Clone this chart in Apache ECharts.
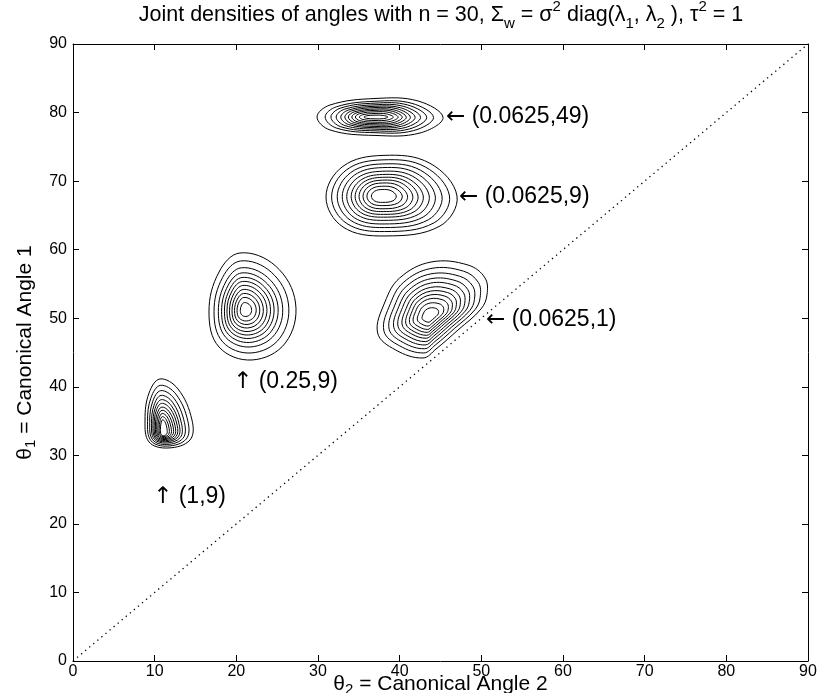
<!DOCTYPE html>
<html><head><meta charset="utf-8">
<script src="https://cdn.jsdelivr.net/npm/echarts@6/dist/echarts.min.js"></script>
<style>html,body{margin:0;padding:0;background:#fff}#c{width:827px;height:693px}</style>
</head><body><div id="c"></div>
<script>
// ---- data (data units: x = theta2, y = theta1) ----
const xTicks = [0, 10, 20, 30, 40, 50, 60, 70, 80, 90];
const yTicks = [0, 10, 20, 30, 40, 50, 60, 70, 80, 90];

// blob (0.0625,49)
const centerA = [36.98, 79.35];
const outerA = [[29.88,79.35],[31.47,81.10],[36.98,82.05],[42.25,81.69],[45.31,79.28],[42.49,77.02],[36.98,76.66],[31.47,77.46]];
const ringXA = [1, .86, .76, .67, .59, .52, .46, .40, .34, .27, .19];
const ringYA = [1, .85, .75, .66, .58, .51, .43, .36, .28, .19, .10];

// blob (0.0625,9)
const centerB = [37.84, 67.83];
const outerB = [[30.98,67.68],[33.06,72.16],[37.96,73.75],[43.71,72.60],[47.02,67.83],[44.94,63.45],[38.20,62.00],[33.06,63.31]];
const ringXB = [1, .90, .80, .71, .63, .55, .48, .41, .34, .27, .19];
const ringYB = [1, .89, .79, .70, .61, .53, .46, .39, .32, .24, .16];

// blob (0.25,9)
const centerC = [21.06, 51.20];
const outerC = [[20.45,59.52],[24.80,57.62],[27.25,52.22],[26.00,46.39],[21.92,43.91],[17.88,45.80],[16.65,50.91],[17.88,56.74]];
const ringXC = [1, .86, .74, .65, .57, .50, .43, .36, .29, .22, .13];
const ringYC = [1, .86, .74, .65, .57, .50, .43, .36, .29, .22, .13];

// blob (0.0625,1)
const centerD = [43.71, 50.33];
const outerD = [[43.84,58.20],[48.37,57.76],[50.45,55.87],[50.69,53.39],[49.96,51.35],[47.14,48.28],[44.45,45.51],[42.86,44.20],[39.50,45.37],[37.30,47.85],[38.20,52.37],[40.00,55.87]];
const ringXD = [1, .88, .78, .69, .61, .53, .46, .39, .32, .24, .15];
const ringYD = [1, .88, .78, .69, .61, .53, .46, .39, .32, .24, .15];

// blob (1,9)
const centerE = [11.02, 33.40];
const outerE = [[10.65,41.14],[12.86,39.68],[14.57,35.15],[14.33,32.24],[11.63,31.07],[9.31,31.95],[8.82,35.15],[9.31,39.09]];
const ringXE = [1, .86, .74, .64, .56, .49, .42, .35, .28, .21, .14];
const ringYE = [1, .88, .78, .69, .61, .54, .47, .41, .35, .29, .23];

// diagonal theta1 = theta2
const diagX = [0, 90];
const diagY = [0, 90];

// annotations
const noteArrows = ['\u2190', '\u2190', '\u2190', '\u2191', '\u2191'];
const noteTexts = ['(0.0625,49)', '(0.0625,9)', '(0.0625,1)', '(0.25,9)', '(1,9)'];
const noteX = [45.67, 47.27, 50.57, 19.59, 9.80];
const noteY = [79.35, 67.68, 49.74, 40.70, 23.92];

// ---- chart ----
const FONT = '"Liberation Sans", Arial, Helvetica, sans-serif';
const chart = echarts.init(document.getElementById('c'), null, {renderer: 'canvas'});

function contourSeries(center, outer, fx, fy) {
  return {
    type: 'custom',
    coordinateSystem: 'cartesian2d',
    silent: true,
    clip: true,
    data: fx.map((v, i) => [i]),
    encode: {x: -1, y: -1},
    renderItem: function (params, api) {
      const i = params.dataIndex;
      const sx = fx[i], sy = fy[i];
      const pts = outer.map(p => api.coord([
        center[0] + sx * (p[0] - center[0]),
        center[1] + sy * (p[1] - center[1])
      ]));
      return {
        type: 'polygon',
        shape: {points: pts, smooth: 0.38},
        style: {fill: 'none', stroke: '#000', lineWidth: 1}
      };
    }
  };
}

const axisCommon = {
  type: 'value', min: 0, max: 90, interval: 10,
  axisLine: {show: true, onZero: false, lineStyle: {color: '#000', width: 1}},
  axisTick: {show: true, inside: true, length: 6, lineStyle: {color: '#000', width: 1}},
  splitLine: {show: false},
};

const nameRich = {
  t: {fontSize: 21, fontFamily: FONT, color: '#000', lineHeight: 26, verticalAlign: 'middle'},
  s: {fontSize: 15, fontFamily: FONT, color: '#000', lineHeight: 26, verticalAlign: 'bottom'}
};

chart.setOption({
  animation: false,
  backgroundColor: '#fff',
  grid: {left: 73, right: 19, top: 44, bottom: 32, containLabel: false, outerBoundsMode: 'none'},
  xAxis: [
    Object.assign({}, axisCommon, {
      position: 'bottom',
      axisLabel: {color: '#000', fontSize: 16, fontFamily: FONT, margin: 3,
        formatter: v => xTicks.indexOf(v) >= 0 ? String(v) : ''},
      name: '{t|\u03b8}{s|2}{t| = Canonical Angle 2}',
      nameLocation: 'middle', nameGap: 10, nameMoveOverlap: false,
      nameTextStyle: {rich: nameRich}
    }),
    Object.assign({}, axisCommon, {position: 'top', axisLabel: {show: false}})
  ],
  yAxis: [
    Object.assign({}, axisCommon, {
      position: 'left',
      axisLabel: {color: '#000', fontSize: 16, fontFamily: FONT, margin: 6,
        formatter: v => yTicks.indexOf(v) >= 0 ? String(v) : ''},
      name: '{t|\u03b8}{s|1}{t| = Canonical Angle 1}',
      nameLocation: 'middle', nameGap: 30,
      nameTextStyle: {rich: nameRich}
    }),
    Object.assign({}, axisCommon, {position: 'right', axisLabel: {show: false}})
  ],
  graphic: [{
    type: 'text', x: 441, y: 15,
    style: {
      text: '{a|Joint densities of angles with n = 30, \u03a3}{b|w}{a| = \u03c3}{c|2}{a| diag(\u03bb}{b|1}{a|, \u03bb}{b|2}{a| ), \u03c4}{c|2}{a| = 1}',
      align: 'center', verticalAlign: 'middle',
      rich: {
        a: {fontSize: 21.5, fontFamily: FONT, color: '#000', lineHeight: 32, verticalAlign: 'middle'},
        b: {fontSize: 15, fontFamily: FONT, color: '#000', lineHeight: 32, verticalAlign: 'bottom'},
        c: {fontSize: 15, fontFamily: FONT, color: '#000', lineHeight: 32, verticalAlign: 'top'}
      }
    }
  }],
  series: [
    {
      type: 'line', silent: true, symbol: 'none',
      data: diagX.map((x, i) => [x, diagY[i]]),
      lineStyle: {color: '#000', width: 1.3, type: [1.3, 4]}
    },
    contourSeries(centerA, outerA, ringXA, ringYA),
    contourSeries(centerB, outerB, ringXB, ringYB),
    contourSeries(centerC, outerC, ringXC, ringYC),
    contourSeries(centerD, outerD, ringXD, ringYD),
    contourSeries(centerE, outerE, ringXE, ringYE),
    {
      type: 'custom', coordinateSystem: 'cartesian2d', silent: true,
      data: noteTexts.map((t, i) => [noteX[i], noteY[i]]),
      renderItem: function (params, api) {
        const p = api.coord([api.value(0), api.value(1)]);
        const i = params.dataIndex;
        return {
          type: 'text', x: p[0], y: p[1],
          style: {
            text: '{ar|' + noteArrows[i] + '}{tx| ' + noteTexts[i] + '}',
            align: 'left', verticalAlign: 'middle',
            rich: {
              ar: {fontSize: 23, fontFamily: '"DejaVu Sans", sans-serif', fill: '#000'},
              tx: {fontSize: 23, fontFamily: FONT, fill: '#000'}
            }
          }
        };
      }
    }
  ]
});
</script>
</body></html>
